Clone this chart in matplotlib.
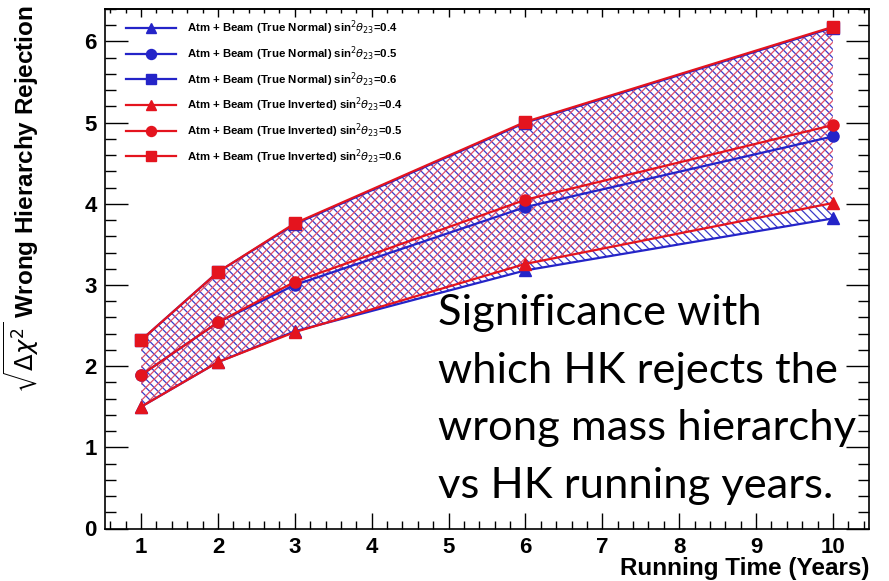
import matplotlib
matplotlib.use("Agg")
import matplotlib.pyplot as plt
from matplotlib.ticker import MultipleLocator

# ---- data ----
years = [1, 2, 3, 6, 10]
nh_04 = [1.50, 2.05, 2.43, 3.18, 3.82]
nh_05 = [1.89, 2.54, 3.00, 3.96, 4.83]
nh_06 = [2.32, 3.16, 3.75, 5.00, 6.17]
ih_04 = [1.50, 2.05, 2.42, 3.26, 4.01]
ih_05 = [1.89, 2.54, 3.04, 4.05, 4.97]
ih_06 = [2.32, 3.16, 3.76, 5.01, 6.18]

nh_labels = [r"Atm + Beam (True Normal) sin$^{2}\theta_{23}$=0.4",
             r"Atm + Beam (True Normal) sin$^{2}\theta_{23}$=0.5",
             r"Atm + Beam (True Normal) sin$^{2}\theta_{23}$=0.6"]
ih_labels = [r"Atm + Beam (True Inverted) sin$^{2}\theta_{23}$=0.4",
             r"Atm + Beam (True Inverted) sin$^{2}\theta_{23}$=0.5",
             r"Atm + Beam (True Inverted) sin$^{2}\theta_{23}$=0.6"]
markers = ["^", "o", "s"]

note_lines = ["Significance with",
              "which HK rejects the",
              "wrong mass hierarchy",
              "vs HK running years."]

xlabel = "Running Time (Years)"
ylabel = r"$\sqrt{\Delta\chi^{2}}$ Wrong Hierarchy Rejection"

BLUE = "#2424c8"
RED = "#e4141e"

plt.rcParams["hatch.linewidth"] = 0.9
plt.rcParams["font.family"] = ["Liberation Sans", "DejaVu Sans"]
plt.rcParams["mathtext.fontset"] = "dejavusans"

W, H = 889, 581
fig = plt.figure(figsize=(W / 100, H / 100), dpi=100)
ax = fig.add_axes([105 / W, 1 - 528.5 / H, (869 - 105) / W, (528.5 - 9) / H])

# hatched bands
ax.fill_between(years, nh_04, nh_06, facecolor="none", edgecolor="#3a3ac8",
                hatch="\\\\\\\\", linewidth=0, zorder=1)
ax.fill_between(years, ih_04, ih_06, facecolor="none", edgecolor="#e0506a",
                hatch="////", linewidth=0, zorder=1)

handles = []
for vals, m, lab in zip([nh_04, nh_05, nh_06], markers, nh_labels):
    h, = ax.plot(years, vals, color=BLUE, lw=1.6, marker=m, ms=8,
                 mec=BLUE, mfc=BLUE, label=lab, zorder=3)
    handles.append(h)
for vals, m, lab in zip([ih_04, ih_05, ih_06], markers, ih_labels):
    h, = ax.plot(years, vals, color=RED, lw=1.6, marker=m, ms=8,
                 mec=RED, mfc=RED, label=lab, zorder=4)
    handles.append(h)

ax.set_xlim(0.53, 10.47)
ax.set_ylim(0, 6.4)

ax.xaxis.set_major_locator(MultipleLocator(1))
ax.xaxis.set_minor_locator(MultipleLocator(0.2))
ax.yaxis.set_major_locator(MultipleLocator(1))
ax.yaxis.set_minor_locator(MultipleLocator(0.2))

ax.tick_params(axis="x", which="major", direction="in", length=11.5, width=1.0,
               labelsize=16, pad=6)
ax.tick_params(axis="x", which="minor", direction="in", length=5.8, width=1.0)
ax.tick_params(axis="y", which="major", direction="in", length=16.5, width=1.0,
               labelsize=16, pad=6, right=True)
ax.tick_params(axis="y", which="minor", direction="in", length=8, width=1.0,
               right=True)
for lab in ax.get_xticklabels() + ax.get_yticklabels():
    lab.set_fontweight("bold")

sec = ax.secondary_xaxis("top")
sec.xaxis.set_major_locator(MultipleLocator(1))
sec.xaxis.set_minor_locator(MultipleLocator(0.2))
sec.tick_params(axis="x", which="major", direction="in", length=6, width=1.0,
                labeltop=False)
sec.tick_params(axis="x", which="minor", direction="in", length=3, width=1.0)

for s in ax.spines.values():
    s.set_linewidth(1.2)
sec.spines["top"].set_linewidth(1.2)

ax.set_xlabel(xlabel, loc="right", fontsize=17.5, fontweight="bold")
ax.xaxis.set_label_coords(1.0, 1 - 580 / H, transform=fig.transFigure)
ax.xaxis.label.set_va("bottom")
ax.xaxis.label.set_x(869 / W)
ax.set_ylabel(ylabel, loc="top", fontsize=17.5, fontweight="bold")
ax.yaxis.set_label_coords(-0.082, 1.008)

leg = ax.legend(handles=handles, loc="upper left", frameon=False,
                bbox_to_anchor=(120 / W, 1 - 13 / H), bbox_transform=fig.transFigure,
                prop={"size": 8.2, "weight": "bold"}, handlelength=4.4,
                handletextpad=1.0, labelspacing=0.62, borderpad=0,
                markerscale=0.9)

for i, line in enumerate(note_lines):
    fig.text(438 / W, 1 - (325 + 57.6 * i) / H, line, fontsize=31.3,
             family=["Lato", "DejaVu Sans"], va="baseline", ha="left",
             color="black")

fig.savefig("out.png", dpi=100)
